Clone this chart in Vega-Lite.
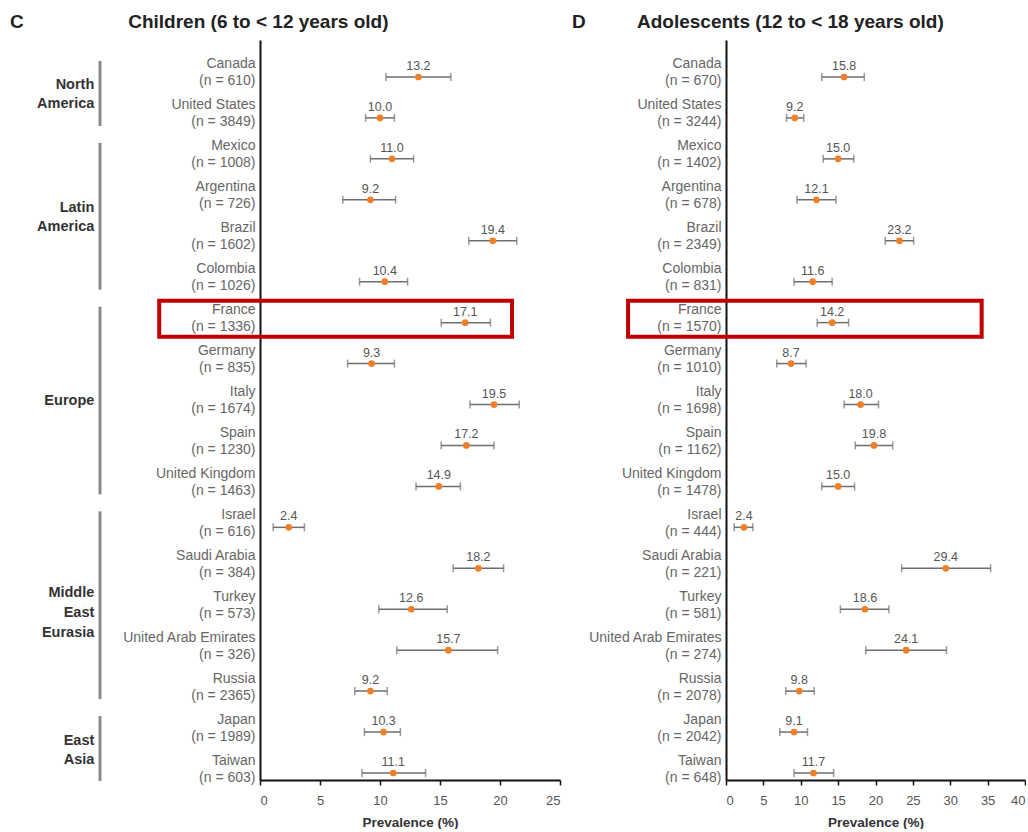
{
  "$schema": "https://vega.github.io/schema/vega-lite/v6.json",
  "padding": {"left": 5, "top": 13, "right": 0, "bottom": 0},
  "config": {
    "font": "Liberation Sans",
    "view": {"stroke": null},
    "title": {"fontSize": 19, "fontWeight": "bold", "color": "#222", "anchor": "start", "offset": 8},
    "axis": {"grid": false, "domainColor": "#111", "domainWidth": 2, "labelColor": "#555", "titleColor": "#333"}
  },
  "datasets": {
    "regions": [
      {"region": "North\nAmerica", "start": 0, "end": 1, "mid": 0.5},
      {"region": "Latin\nAmerica", "start": 2, "end": 5, "mid": 3.5},
      {"region": "Europe", "start": 6, "end": 10, "mid": 8},
      {"region": "Middle\nEast\nEurasia", "start": 11, "end": 15, "mid": 13},
      {"region": "East\nAsia", "start": 16, "end": 17, "mid": 16.5}
    ],
    "children": [
      {"row": "Canada\n(n = 610)", "value": 13.2, "lo": 10.5, "hi": 15.9},
      {"row": "United States\n(n = 3849)", "value": 10.0, "lo": 8.8, "hi": 11.2},
      {"row": "Mexico\n(n = 1008)", "value": 11.0, "lo": 9.2, "hi": 12.8},
      {"row": "Argentina\n(n = 726)", "value": 9.2, "lo": 6.9, "hi": 11.3},
      {"row": "Brazil\n(n = 1602)", "value": 19.4, "lo": 17.4, "hi": 21.4},
      {"row": "Colombia\n(n = 1026)", "value": 10.4, "lo": 8.3, "hi": 12.3},
      {"row": "France\n(n = 1336)", "value": 17.1, "lo": 15.1, "hi": 19.2},
      {"row": "Germany\n(n = 835)", "value": 9.3, "lo": 7.3, "hi": 11.2},
      {"row": "Italy\n(n = 1674)", "value": 19.5, "lo": 17.5, "hi": 21.6},
      {"row": "Spain\n(n = 1230)", "value": 17.2, "lo": 15.1, "hi": 19.5},
      {"row": "United Kingdom\n(n = 1463)", "value": 14.9, "lo": 13.0, "hi": 16.7},
      {"row": "Israel\n(n = 616)", "value": 2.4, "lo": 1.1, "hi": 3.7},
      {"row": "Saudi Arabia\n(n = 384)", "value": 18.2, "lo": 16.1, "hi": 20.3},
      {"row": "Turkey\n(n = 573)", "value": 12.6, "lo": 9.9, "hi": 15.6},
      {"row": "United Arab Emirates\n(n = 326)", "value": 15.7, "lo": 11.4, "hi": 19.8},
      {"row": "Russia\n(n = 2365)", "value": 9.2, "lo": 7.9, "hi": 10.6},
      {"row": "Japan\n(n = 1989)", "value": 10.3, "lo": 8.7, "hi": 11.7},
      {"row": "Taiwan\n(n = 603)", "value": 11.1, "lo": 8.5, "hi": 13.8}
    ],
    "adolescents": [
      {"row": "Canada\n(n = 670)", "value": 15.8, "lo": 12.8, "hi": 18.5},
      {"row": "United States\n(n = 3244)", "value": 9.2, "lo": 8.1, "hi": 10.4},
      {"row": "Mexico\n(n = 1402)", "value": 15.0, "lo": 13.0, "hi": 17.1},
      {"row": "Argentina\n(n = 678)", "value": 12.1, "lo": 9.5, "hi": 14.7},
      {"row": "Brazil\n(n = 2349)", "value": 23.2, "lo": 21.3, "hi": 25.1},
      {"row": "Colombia\n(n = 831)", "value": 11.6, "lo": 9.1, "hi": 14.2},
      {"row": "France\n(n = 1570)", "value": 14.2, "lo": 12.2, "hi": 16.4},
      {"row": "Germany\n(n = 1010)", "value": 8.7, "lo": 6.8, "hi": 10.7},
      {"row": "Italy\n(n = 1698)", "value": 18.0, "lo": 15.8, "hi": 20.4},
      {"row": "Spain\n(n = 1162)", "value": 19.8, "lo": 17.3, "hi": 22.3},
      {"row": "United Kingdom\n(n = 1478)", "value": 15.0, "lo": 12.8, "hi": 17.2},
      {"row": "Israel\n(n = 444)", "value": 2.4, "lo": 1.1, "hi": 3.6},
      {"row": "Saudi Arabia\n(n = 221)", "value": 29.4, "lo": 23.5, "hi": 35.4},
      {"row": "Turkey\n(n = 581)", "value": 18.6, "lo": 15.3, "hi": 21.8},
      {"row": "United Arab Emirates\n(n = 274)", "value": 24.1, "lo": 18.7, "hi": 29.5},
      {"row": "Russia\n(n = 2078)", "value": 9.8, "lo": 8.0, "hi": 11.8},
      {"row": "Japan\n(n = 2042)", "value": 9.1, "lo": 7.2, "hi": 10.9},
      {"row": "Taiwan\n(n = 648)", "value": 11.7, "lo": 9.1, "hi": 14.4}
    ],
    "highlightChildren": [{"row": "France\n(n = 1336)", "from": -8.4, "to": 21.0}],
    "highlightAdolescents": [{"row": "France\n(n = 1570)", "from": -13.1, "to": 34.2}]
  },
  "spacing": 10,
  "hconcat": [
    {
      "title": {"text": "C\u2003\u2003\u2003\u2003\u2003\u2002Children (6 to < 12 years old)", "dx": 5},
      "spacing": 19,
      "hconcat": [
        {
          "width": 95,
          "height": 740,
          "data": {"name": "regions"},
          "encoding": {
            "y": {"field": "mid", "type": "quantitative", "scale": {"domain": [-0.9038, 17.1712], "reverse": true, "nice": false, "zero": false}, "axis": null}
          },
          "layer": [
            {
              "mark": {"type": "rule", "color": "#8a8a8a", "strokeWidth": 3, "yOffset": -16, "y2Offset": 8},
              "encoding": {
                "x": {"datum": 1, "type": "quantitative", "scale": {"domain": [0, 1]}, "axis": null},
                "y": {"field": "start", "type": "quantitative"},
                "y2": {"field": "end"}
              }
            },
            {
              "transform": [{"filter": {"field": "region", "equal": "Europe"}}],
              "mark": {"type": "text", "align": "right", "baseline": "middle", "dy": -4, "fontSize": 14.5, "fontWeight": "bold", "color": "#333", "lineBreak": "\n", "lineHeight": 19},
              "encoding": {
                "x": {"datum": 0.94, "type": "quantitative"},
                "text": {"field": "region"}
              }
            },
            {
              "transform": [{"filter": {"field": "region", "oneOf": ["North\nAmerica", "Latin\nAmerica", "East\nAsia"]}}],
              "mark": {"type": "text", "align": "right", "baseline": "middle", "dy": -12, "fontSize": 14.5, "fontWeight": "bold", "color": "#333", "lineBreak": "\n", "lineHeight": 19},
              "encoding": {
                "x": {"datum": 0.94, "type": "quantitative"},
                "text": {"field": "region"}
              }
            },
            {
              "transform": [{"filter": {"field": "region", "equal": "Middle\nEast\nEurasia"}}],
              "mark": {"type": "text", "align": "right", "baseline": "middle", "dy": -16, "fontSize": 14.5, "fontWeight": "bold", "color": "#333", "lineBreak": "\n", "lineHeight": 20},
              "encoding": {
                "x": {"datum": 0.94, "type": "quantitative"},
                "text": {"field": "region"}
              }
            }
          ]
        },
        {
          "width": 300,
          "height": 740,
          "layer": [
            {
              "data": {"name": "children"},
              "layer": [
                {
                  "mark": {"type": "errorbar", "color": "#6e6e6e", "thickness": 1.5, "ticks": {"size": 8}},
                  "encoding": {
                    "x": {"field": "lo", "type": "quantitative"},
                    "x2": {"field": "hi"},
                    "y": {"field": "row", "type": "nominal"}
                  }
                },
                {
                  "mark": {"type": "point", "filled": true, "shape": "circle", "size": 45, "color": "#f07f28", "opacity": 1},
                  "encoding": {
                    "x": {"field": "value", "type": "quantitative"},
                    "y": {"field": "row", "type": "nominal"}
                  }
                },
                {
                  "mark": {"type": "text", "dy": -11, "fontSize": 12.5, "color": "#555", "baseline": "middle"},
                  "encoding": {
                    "x": {"field": "value", "type": "quantitative"},
                    "y": {"field": "row", "type": "nominal"},
                    "text": {"field": "value", "type": "quantitative", "format": ".1f"}
                  }
                }
              ]
            },
            {
              "data": {"name": "highlightChildren"},
              "mark": {"type": "rect", "filled": false, "color": "#c00000", "strokeWidth": 4, "height": 36, "yOffset": -4},
              "encoding": {
                "x": {"field": "from", "type": "quantitative"},
                "x2": {"field": "to"},
                "y": {"field": "row", "type": "nominal"}
              }
            }
          ],
          "encoding": {
            "x": {
              "type": "quantitative",
              "scale": {"domain": [0, 25], "nice": false},
              "axis": {"values": [0, 5, 10, 15, 20, 25], "title": "Prevalence (%)", "titleFontSize": 13.5, "titleFontWeight": "bold", "titlePadding": 8, "labelFontSize": 13, "labelPadding": 9, "tickSize": 5, "tickColor": "#111", "tickWidth": 1.5}
            },
            "y": {
              "type": "nominal",
              "sort": null,
              "scale": {"type": "point", "padding": 0.537, "align": 0.841},
              "axis": {"title": null, "labelExpr": "split(datum.value, '\\n')", "labelLineHeight": 17, "labelFontSize": 14, "labelColor": "#666", "labelOffset": -13, "ticks": false, "labelPadding": 5}
            }
          }
        }
      ]
    },
    {
      "title": {"text": "D\u2003\u2003\u2002\u2009Adolescents (12 to < 18 years old)", "dx": -16},
      "width": 299,
      "height": 740,
      "layer": [
        {
          "data": {"name": "adolescents"},
          "layer": [
            {
              "mark": {"type": "errorbar", "color": "#6e6e6e", "thickness": 1.5, "ticks": {"size": 8}},
              "encoding": {
                "x": {"field": "lo", "type": "quantitative"},
                "x2": {"field": "hi"},
                "y": {"field": "row", "type": "nominal"}
              }
            },
            {
              "mark": {"type": "point", "filled": true, "shape": "circle", "size": 45, "color": "#f07f28", "opacity": 1},
              "encoding": {
                "x": {"field": "value", "type": "quantitative"},
                "y": {"field": "row", "type": "nominal"}
              }
            },
            {
              "mark": {"type": "text", "dy": -11, "fontSize": 12.5, "color": "#555", "baseline": "middle"},
              "encoding": {
                "x": {"field": "value", "type": "quantitative"},
                "y": {"field": "row", "type": "nominal"},
                "text": {"field": "value", "type": "quantitative", "format": ".1f"}
              }
            }
          ]
        },
        {
          "data": {"name": "highlightAdolescents"},
          "mark": {"type": "rect", "filled": false, "color": "#c00000", "strokeWidth": 4, "height": 36, "yOffset": -4},
          "encoding": {
            "x": {"field": "from", "type": "quantitative"},
            "x2": {"field": "to"},
            "y": {"field": "row", "type": "nominal"}
          }
        }
      ],
      "encoding": {
        "x": {
          "type": "quantitative",
          "scale": {"domain": [0, 40], "nice": false},
          "axis": {"values": [0, 5, 10, 15, 20, 25, 30, 35, 40], "title": "Prevalence (%)", "titleFontSize": 13.5, "titleFontWeight": "bold", "titlePadding": 8, "labelFontSize": 13, "labelPadding": 9, "tickSize": 5, "tickColor": "#111", "tickWidth": 1.5}
        },
        "y": {
          "type": "nominal",
          "sort": null,
          "scale": {"type": "point", "padding": 0.537, "align": 0.841},
          "axis": {"title": null, "labelExpr": "split(datum.value, '\\n')", "labelLineHeight": 17, "labelFontSize": 14, "labelColor": "#666", "labelOffset": -13, "ticks": false, "labelPadding": 5}
        }
      }
    }
  ]
}
